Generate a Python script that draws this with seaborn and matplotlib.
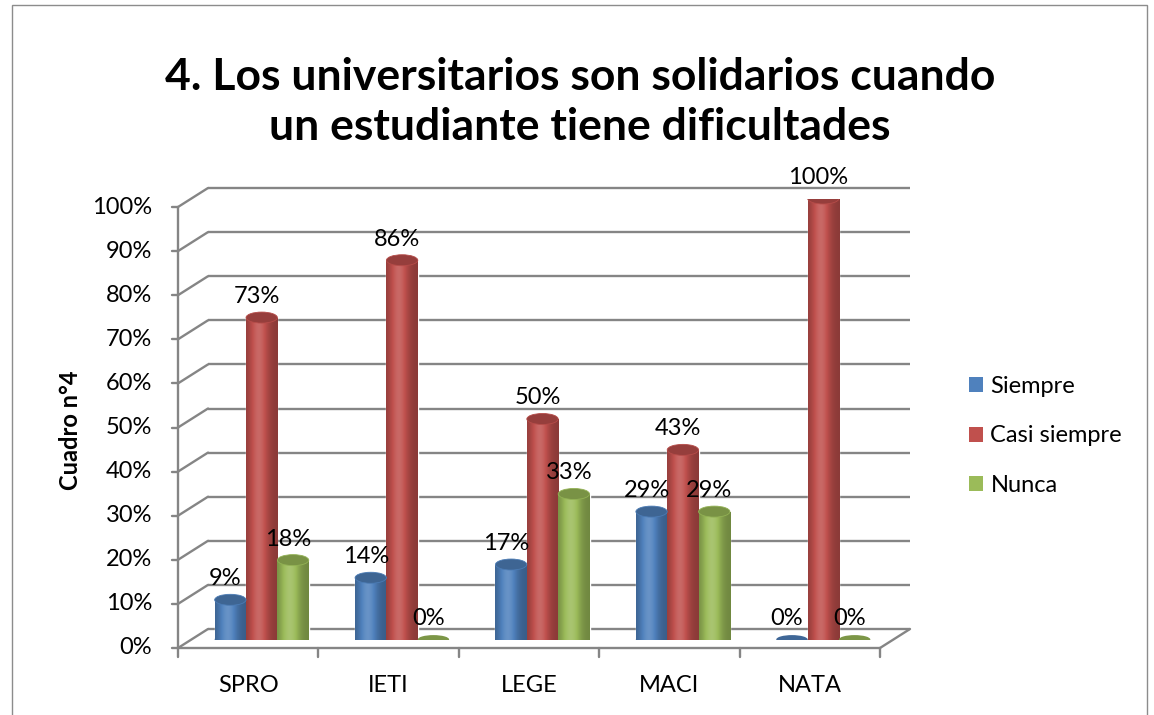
import numpy as np
import pandas as pd
import matplotlib
matplotlib.use("Agg")
import matplotlib.pyplot as plt
import matplotlib.colors as mcolors
from matplotlib.patches import Ellipse, Rectangle, Patch
import seaborn as sns

categories = ["SPRO", "IETI", "LEGE", "MACI", "NATA"]
siempre = [9, 14, 17, 29, 0]
casi_siempre = [73, 86, 50, 43, 100]
nunca = [18, 0, 33, 29, 0]
series_names = ["Siempre", "Casi siempre", "Nunca"]
colors = ["#4F81BD", "#C0504D", "#9BBB59"]
y_ticks = list(range(0, 101, 10))

df = pd.DataFrame({
    "cat": categories * 3,
    "serie": [s for s in series_names for _ in categories],
    "valor": siempre + casi_siempre + nunca,
})

sns.set_style("white")
plt.rcParams["font.family"] = ["Lato", "DejaVu Sans"]
plt.rcParams["text.color"] = "black"

W, H = 1154, 715
fig = plt.figure(figsize=(W / 100, H / 100), dpi=100)

# axes placed at the depth of the cylinders (pixel positions of the reference)
x0, x1 = 191.5, 893.5
yb, yt = 639.5, 198.5
ax = fig.add_axes([x0 / W, 1 - yb / H, (x1 - x0) / W, (yb - yt) / H])

sns.barplot(data=df, x="cat", y="valor", hue="serie", palette=colors,
            width=0.67, saturation=1, legend=False, ax=ax, zorder=3)
ax.axis("off")

# pixel -> data unit conversions
px_x = 5 / (x1 - x0)
px_y = 100 / (yb - yt)
bdx, bdy = 16.5 * px_x, 10.5 * px_y      # back wall offset
fdx, fdy = -13.5 * px_x, -8.5 * px_y     # front axis offset

gc = "#858585"
lw = 1.7
fs = 17
for v in y_ticks:
    # back wall gridline
    ax.plot([-0.5 + bdx, 4.5 + bdx], [v + bdy, v + bdy], color=gc, lw=lw,
            clip_on=False, zorder=0, solid_capstyle="butt")
    # side wall diagonal
    ax.plot([-0.5 + fdx, -0.5 + bdx], [v + fdy, v + bdy], color=gc, lw=lw,
            clip_on=False, zorder=0)
    # tick on the front axis
    ax.plot([-0.5 + fdx - 6 * px_x, -0.5 + fdx], [v + fdy, v + fdy], color=gc,
            lw=lw, clip_on=False, zorder=0)
    ax.annotate(f"{v}%", (-0.5 + fdx, v + fdy), xytext=(-26, 0),
                textcoords="offset pixels", ha="right", va="center",
                fontsize=fs, annotation_clip=False)

# front axes and floor
ax.plot([-0.5 + fdx, -0.5 + fdx], [fdy, 100 + fdy], color=gc, lw=lw, clip_on=False, zorder=0)
ax.plot([-0.5 + fdx, 4.5 + fdx], [fdy, fdy], color=gc, lw=lw, clip_on=False, zorder=0)
ax.plot([4.5 + fdx, 4.5 + bdx], [fdy, bdy], color=gc, lw=lw, clip_on=False, zorder=0)
for k in range(6):
    xb = -0.5 + k + fdx
    ax.plot([xb, xb], [fdy, fdy - 9 * px_y], color=gc, lw=lw, clip_on=False, zorder=0)
for k, c in enumerate(categories):
    ax.annotate(c, (k + fdx, fdy), xytext=(0, -37), textcoords="offset pixels",
                ha="center", va="center", fontsize=fs, annotation_clip=False)


def shade(c, f):
    r = np.array(mcolors.to_rgb(c))
    if f < 1:
        return r * f
    return r + (1 - r) * (f - 1)


t = np.linspace(0, 1, 60)
prof = 0.72 + 0.42 * np.exp(-((t - 0.4) / 0.3) ** 2)
cap_h = 11 * px_y

for i, cont in enumerate(ax.containers):
    base = colors[i]
    grad = np.array([[shade(base, f) for f in prof]])
    for p in cont.patches:
        x, w, h = p.get_x(), p.get_width(), p.get_height()
        cx = x + w / 2
        if h > 0:
            ax.imshow(grad, extent=(x, x + w, 0, h), aspect="auto", zorder=4,
                      interpolation="bilinear")
            ax.add_patch(Ellipse((cx, 0), w, cap_h, facecolor=shade(base, 0.85),
                                 edgecolor="none", zorder=3.5))
            ax.add_patch(Ellipse((cx, h), w, cap_h, facecolor=shade(base, 0.78),
                                 edgecolor=shade(base, 0.95), lw=0.6, zorder=5))
        else:
            ax.add_patch(Ellipse((cx, 0), w, cap_h * 0.8, facecolor=shade(base, 0.8),
                                 edgecolor="none", zorder=5))
        ax.annotate(f"{h:.0f}%", (cx, h), xytext=(-5, 21), textcoords="offset pixels",
                    ha="center", va="center", fontsize=fs, zorder=6,
                    annotation_clip=False)

ax.set_xlim(-0.5, 4.5)
ax.set_ylim(0, 100)

fig.text(71 / W, 1 - 430 / H, "Cuadro n°4", rotation=90, fontsize=17,
         fontweight="bold", ha="center", va="center")
fig.text(580 / W, 1 - 102 / H,
         "4. Los universitarios son solidarios cuando\nun estudiante tiene dificultades",
         fontsize=32, fontweight="bold", ha="center", va="center", linespacing=1.32)

handles = [Patch(facecolor=c, edgecolor="none", label=s) for c, s in zip(colors, series_names)]
fig.legend(handles=handles, loc="center left", bbox_to_anchor=(948 / W, 1 - 436 / H),
           frameon=False, fontsize=fs, handlelength=0.6, handleheight=0.6,
           labelspacing=1.2, handletextpad=0.3)

fig.add_artist(Rectangle((12 / W, -0.05), (1147 - 12) / W, 1.05 - 5 / H, fill=False,
                         edgecolor="#8c8c8c", lw=1, transform=fig.transFigure))

fig.savefig("out.png", dpi=100)
